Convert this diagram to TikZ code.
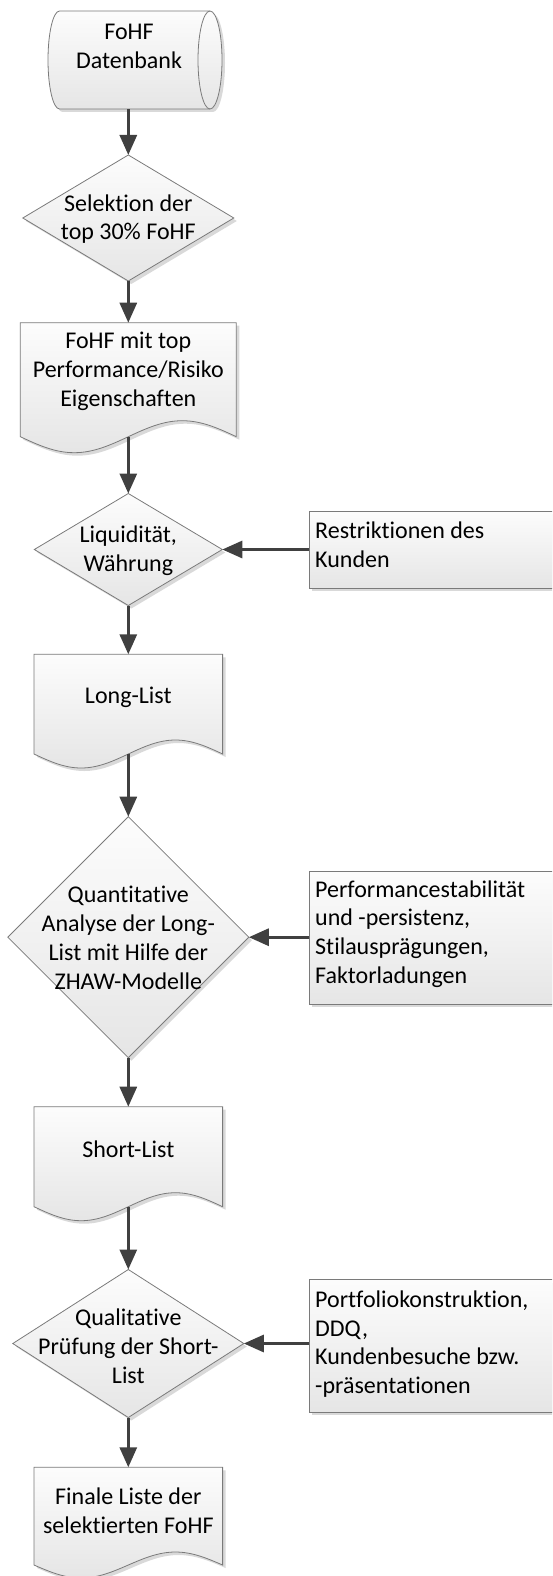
\documentclass[tikz,border=0pt]{standalone}
\usepackage{fontspec}
\setmainfont[Ligatures={NoCommon}]{Carlito}
\usetikzlibrary{arrows.meta,shapes.geometric,shadows,calc}
\tikzset{
  shp/.style={draw=black!52, line width=0.8pt, top color=black!1, bottom color=black!10},
  shd/.style={fill=black!15},
  nshadow/.style={drop shadow={shadow xshift=3pt, shadow yshift=-3pt, fill=black!15, opacity=1}},
  conn/.style={draw=black!75, line width=3pt, -{Triangle[length=20pt,width=17pt]}},
  lbl/.style={font=\fontsize{24}{28.8}\selectfont, align=center, inner sep=0pt},
  lbll/.style={font=\fontsize{24}{28.8}\selectfont, align=left, inner sep=0pt, anchor=west},
  dia/.style={diamond, shp, nshadow, inner sep=0pt, outer sep=0pt},
  boxnode/.style={rectangle, shp, nshadow, inner sep=0pt, outer sep=0pt},
  holder/.style={rectangle, draw=none, fill=none, inner sep=0pt, outer sep=0pt},
}
% l r t s A
\newcommand\docshape[5]{%
  \fill[shd, shift={(3,3)}] (#1,#3) -- (#2,#3) -- (#2,#4)
    sin ({#1+0.75*(#2-#1)},{#4-#5}) cos ({#1+0.5*(#2-#1)},#4)
    sin ({#1+0.25*(#2-#1)},{#4+#5}) cos (#1,#4) -- cycle;
  \path[shp] (#1,#3) -- (#2,#3) -- (#2,#4)
    sin ({#1+0.75*(#2-#1)},{#4-#5}) cos ({#1+0.5*(#2-#1)},#4)
    sin ({#1+0.25*(#2-#1)},{#4+#5}) cos (#1,#4) -- cycle;
}
\begin{document}
\begin{tikzpicture}[x=1pt,y=-1pt]
\useasboundingbox (0,0) rectangle (552,1576);
\clip (0,0) rectangle (552,1576);

% ---- database cylinder
\fill[shd, shift={(3,3)}] (59.5,11) -- (210,11) arc[start angle=90, end angle=-90, x radius=12pt, y radius=49pt]
   -- (59.5,109) arc[start angle=-90, end angle=-270, x radius=11.5pt, y radius=49pt] -- cycle;
\path[shp] (59.5,11) -- (210,11) arc[start angle=90, end angle=-90, x radius=12pt, y radius=49pt]
   -- (59.5,109) arc[start angle=-90, end angle=-270, x radius=11.5pt, y radius=49pt] -- cycle;
\draw[draw=black!52, line width=0.8pt] (210,11) arc[start angle=90, end angle=270, x radius=12pt, y radius=49pt];
\node[holder, minimum width=160.6pt, minimum height=98pt] (db) at (128.3,60) {};
\node[lbl] (tdb) at (129,46) {FoHF\\Datenbank};

% ---- diamond 1
\node[dia, minimum width=211pt, minimum height=126pt] (d1) at (128.3,218) {};
\node[lbl] (td1) at (128.3,219) {Selektion der\\top 30\% FoHF};

% ---- document 1
\docshape{20.3}{236.3}{322.7}{436.7}{16}
\node[holder, minimum width=216pt, minimum height=114pt] (doc1) at (128.3,379.7) {};
\node[lbl] (tdoc1) at (128.3,371.5) {FoHF mit top\\Performance/Risiko\\Eigenschaften};

% ---- diamond 2 and box 1
\node[dia, minimum width=188pt, minimum height=112pt] (d2) at (128.3,549.5) {};
\node[lbl] (td2) at (128.3,551) {Liquidität,\\Währung};
\node[boxnode, minimum width=250.7pt, minimum height=77.3pt] (b1) at (434.65,549.65) {};
\node[lbll] (tb1) at (315,545) {Restriktionen des\\Kunden};

% ---- Long-List
\docshape{34}{222.6}{654.3}{754}{14}
\node[holder, minimum width=188.6pt, minimum height=99.7pt] (ll) at (128.3,704.15) {};
\node[lbl] (tll) at (128.3,697) {Long-List};

% ---- diamond 3 and box 2
\node[dia, minimum width=241pt, minimum height=241pt] (d3) at (128.3,937.2) {};
\node[lbl] (td3) at (128.3,938) {Quantitative\\Analyse der Long-\\List mit Hilfe der\\ZHAW-Modelle};
\node[boxnode, minimum width=250.7pt, minimum height=133.3pt] (b2) at (434.65,937.65) {};
\node[lbll] (tb2) at (315,934) {Performancestabilität\\und -persistenz,\\Stilausprägungen,\\Faktorladungen};

% ---- Short-List
\docshape{34}{222.6}{1106.7}{1206.7}{14}
\node[holder, minimum width=188.6pt, minimum height=100pt] (sl) at (128.3,1156.7) {};
\node[lbl] (tsl) at (128.3,1149) {Short-List};

% ---- diamond 4 and box 3
\node[dia, minimum width=231pt, minimum height=148pt] (d4) at (128.3,1343.5) {};
\node[lbl] (td4) at (128.3,1346) {Qualitative\\Prüfung der Short-\\List};
\node[boxnode, minimum width=250.7pt, minimum height=132.5pt] (b3) at (434.65,1345.75) {};
\node[lbll] (tb3) at (315,1344) {Portfoliokonstruktion,\\DDQ,\\Kundenbesuche bzw.\\-präsentationen};

% ---- final document
\docshape{34}{222.6}{1467.3}{1565}{13}
\node[holder, minimum width=188.6pt, minimum height=97.7pt] (fin) at (128.3,1516.15) {};
\node[lbl] (tfin) at (128.3,1511) {Finale Liste der\\selektierten FoHF};

% ---- connectors
\draw[conn] (db.south) -- (d1.north);
\draw[conn] (d1.south) -- (doc1.north);
\draw[conn] (doc1.south) -- (d2.north);
\draw[conn] (d2.south) -- (ll.north);
\draw[conn] (ll.south) -- (d3.north);
\draw[conn] (d3.south) -- (sl.north);
\draw[conn] (sl.south) -- (d4.north);
\draw[conn] (d4.south) -- (fin.north);
\draw[conn] (b1.west |- d2.east) -- (d2.east);
\draw[conn] (b2.west |- d3.east) -- (d3.east);
\draw[conn] (b3.west |- d4.east) -- (d4.east);
\end{tikzpicture}
\end{document}
